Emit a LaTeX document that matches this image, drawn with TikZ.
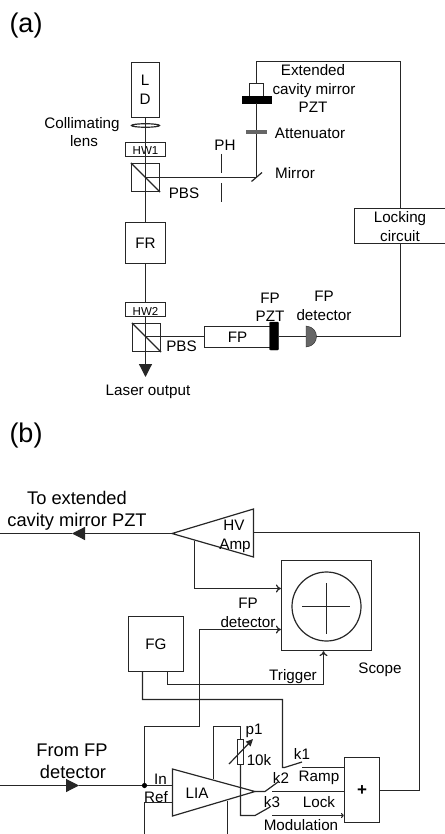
\documentclass[tikz,border=0pt]{standalone}
\usepackage{fontspec}
\setmainfont{Liberation Sans}
\usepackage{tikz}
\usetikzlibrary{positioning,calc,arrows.meta,shapes.geometric}
\tikzset{
  wire/.style={line width=1.2pt, black!85},
  box/.style={draw=black!85, line width=1.2pt, inner sep=0pt, text height=11pt, text depth=0pt, font=\fontsize{15.2}{16}\selectfont},
  lbl/.style={inner sep=0pt, text height=11pt, text depth=0pt, font=\fontsize{15.2}{16}\selectfont},
  biglbl/.style={inner sep=0pt, text height=13pt, text depth=0pt, font=\fontsize{18.3}{20}\selectfont},
  partlbl/.style={inner sep=0pt, font=\fontsize{27}{28}\selectfont},
  solidhead/.style={-{Triangle[length=13pt,width=13pt]}},
  openhead/.style={-{To[length=5pt,width=8pt]}},
}
\begin{document}
\begin{tikzpicture}[x=1pt,y=-1pt]
\useasboundingbox (0,0) rectangle (444,834);

% Part (a)
\node[partlbl] (parta) at (26,26) {(a)};
\node[box, minimum width=28pt, minimum height=55pt] (ld) at (145.5,90) {};
\node[lbl] (ldl) at (145,80) {L};
\node[lbl] (ldd) at (145,99) {D};
\node[draw, ellipse, wire, minimum width=28pt, minimum height=3.5pt, inner sep=0pt] (lens) at (145.5,125.5) {};
\node[box, minimum width=40pt, minimum height=14pt] (hwone) at (145.5,149.5) {\fontsize{11.5}{12}\selectfont HW1};
\node[box, minimum width=28pt, minimum height=28pt] (pbsone) at (145.5,177.5) {};
\node[box, minimum width=40pt, minimum height=41pt] (fr) at (145.5,243) {FR};
\node[box, minimum width=40pt, minimum height=14pt] (hwtwo) at (145.5,309.5) {\fontsize{11.5}{12}\selectfont HW2};
\node[box, minimum width=28pt, minimum height=28pt] (pbstwo) at (146.5,337.5) {};
\node[box, minimum width=66pt, minimum height=21pt] (fp) at (237.5,337) {FP};
\node[draw, fill=black, rounded corners=1pt, minimum width=9pt, minimum height=28pt, inner sep=0pt] (fppzt) at (274,336) {};
\node[box, minimum width=92pt, minimum height=35pt] (lock) at (400.5,226) {};
\node[box, minimum width=14pt, minimum height=13pt] (pztbox) at (256.5,90) {};
\node[draw, fill=black, minimum width=29pt, minimum height=7pt, inner sep=0pt] (pztbar) at (256.5,99.5) {};
\coordinate (hwout) at (145.5,336.5);
\coordinate (laser) at (145.5,377);
\coordinate (corner) at (256.5,177.5);
\coordinate (topr) at (400.5,61.5);
\coordinate (topl) at (256.5,61.5);
\coordinate (lockb) at (400.5,243.5);
\coordinate (fpcorner) at (400.5,336.5);

% Beams
\draw[wire] (ld.south) -- (fr.north);
\draw[wire] (fr.south) -- (hwtwo.north);
\draw[wire] (hwtwo.south) -- (hwout);
\draw[wire, solidhead] (hwout) -- (laser);
\draw[wire] (pbsone.center) -- (corner) -- (pztbar.south);
\draw[wire] (pbsone.north west) -- (pbsone.south east);
\draw[wire] (pbstwo.north west) -- (pbstwo.south east);
\draw[wire] (hwout) -- (hwout -| fp.west);
\draw[wire] (pztbox.north) -- (topl) -- (topr) -- (lock.north -| topr);
\draw[wire] (lockb) -- (fpcorner) -- (fppzt.east |- fpcorner);

% Mirror, attenuator, pinhole, detector
\draw[wire] (251.5,181.5) -- (262,172.5);
\fill[black!60] (245.5,130.5) rectangle (266.5,134);
\draw[wire] (221.5,154) -- (221.5,173);
\draw[wire] (221.5,183) -- (221.5,202);
\fill[black!60, draw=black!85] (306,326) .. controls (320,327) and (320,346) .. (306,347) -- cycle;

% Labels (a)
\node[lbl] (extl) at (313,70) {Extended};
\node[lbl] (cavl) at (314,89) {cavity mirror};
\node[lbl] (pztl) at (313,107.5) {PZT};
\node[lbl] (attl) at (310,133) {Attenuator};
\node[lbl] (mirl) at (295,173.5) {Mirror};
\node[lbl] (phl) at (225,145) {PH};
\node[lbl] (coll) at (82,123) {Collimating};
\node[lbl] (lenl) at (84,141) {lens};
\node[lbl] (pbsa) at (184,193) {PBS};
\node[lbl] (lockl) at (400,217) {Locking};
\node[lbl] (circl) at (400,236) {circuit};
\node[lbl] (fpa) at (270,297.5) {FP};
\node[lbl] (fppztl) at (270,316) {PZT};
\node[lbl] (fpda) at (324,296) {FP};
\node[lbl] (fpdb) at (324,315) {detector};
\node[lbl] (pbsb) at (181.5,346) {PBS};
\node[lbl] (outl) at (148,390) {Laser output};

% Part (b)
\node[partlbl] (partb) at (26,436) {(b)};
\node[biglbl] (toa) at (77,497.5) {To extended};
\node[biglbl] (tob) at (77,519.5) {cavity mirror PZT};
\coordinate (hvtip) at (172,533.5);
\coordinate (hvtop) at (253.5,509);
\coordinate (hvbot) at (253.5,557);
\draw[wire] (hvtip) -- (hvtop) -- (hvbot) -- cycle;
\node[lbl] (hvl) at (234,525) {HV};
\node[lbl] (ampl) at (235,544) {Amp};
\coordinate (toleft) at (0,533.5);
\coordinate (toarrow) at (72,533.5);
\draw[wire, solidhead] (hvtip) -- (toarrow);
\draw[wire] (toarrow) -- (toleft);

\node[box, minimum width=90pt, minimum height=90pt] (scope) at (326.5,605.5) {};
\node[draw, circle, wire, minimum size=69pt, inner sep=0pt] (screen) at (326.5,606.5) {};
\draw[wire] (326.5,583) -- (326.5,634);
\draw[wire] (302,606.5) -- (350,606.5);
\node[box, minimum width=55pt, minimum height=55pt] (fg) at (156,644) {FG};
\node[lbl] (fpb) at (248,603) {FP};
\node[lbl] (fpdc) at (248,622) {detector};
\node[lbl] (trigl) at (293,675) {Trigger};
\node[lbl] (scopel) at (380,667.5) {Scope};

\coordinate (hvdown) at (194.5,541);
\coordinate (ylow) at (194.5,588.5);
\draw[wire, openhead] (hvdown) -- (ylow) -- (ylow -| scope.west);
\coordinate (fpdin) at (199.5,629.5);
\coordinate (fpdbend) at (199.5,726.5);
\coordinate (inbend) at (144.5,726.5);
\coordinate (indot) at (144.5,785.5);
\draw[wire, openhead] (indot) -- (inbend) -- (fpdbend) -- (fpdin) -- (fpdin -| scope.west);

% Lock-in and adder
\coordinate (liaa) at (172.5,769);
\coordinate (liab) at (172.5,816);
\coordinate (liatip) at (255,791.5);
\draw[wire] (liaa) -- (liatip) -- (liab) -- cycle;
\node[lbl] (lial) at (197,793) {LIA};
\node[box, minimum width=35pt, minimum height=65pt, font=\fontsize{17}{17}\selectfont\bfseries] (adder) at (362,790) {+};

\coordinate (fpleft) at (0,785.5);
\coordinate (fparrow) at (79,785.5);
\draw[wire, solidhead] (fpleft) -- (fparrow);
\draw[wire] (fparrow) -- (liaa |- indot);
\fill (indot) circle (2.6pt);
\node[biglbl] (froml) at (72,749.5) {From FP};
\node[biglbl] (detl) at (73,772) {detector};
\node[lbl] (inl) at (160.5,779) {In};
\node[lbl] (refl) at (156,797) {Ref};
\coordinate (refb) at (144.5,802.5);
\coordinate (refd) at (144.5,834);
\draw[wire] (liaa |- refb) -- (refb) -- (refd);
\coordinate (liaout) at (227.5,800.5);
\coordinate (liadown) at (227.5,834);
\draw[wire] (liaout) -- (liadown);

% FG outputs
\coordinate (fgaa) at (142.5,699.5);
\coordinate (fgab) at (282.5,699.5);
\coordinate (kone) at (284.5,767.5);
\coordinate (konee) at (302,762);
\coordinate (fgba) at (167.5,684.5);
\coordinate (fgbb) at (323.5,684.5);
\draw[wire] (fgaa |- fg.south) -- (fgaa) -- (fgab) -- (fgab |- kone) -- (kone) -- (konee);
\draw[wire, openhead] (fgba |- fg.south) -- (fgba) -- (fgbb) -- (fgbb |- scope.south);

% Switches
\coordinate (ramp) at (302,767.5);
\draw[wire] (ramp) -- (ramp -| adder.west);
\coordinate (ktwo) at (265,791.5);
\coordinate (ktwoe) at (278,782);
\draw[wire] (liatip) -- (ktwo) -- (ktwoe);
\coordinate (lock2) at (272,791.5);
\draw[wire] (lock2) -- (lock2 -| adder.west);
\coordinate (kthr) at (255,815.5);
\coordinate (kthre) at (270,807);
\coordinate (mods) at (272,815.5);
\draw[wire, -{To[length=3pt,width=5pt]}] (mods) -- (mods -| adder.west);
\node[lbl] (konel) at (302,754) {k1};
\node[lbl] (ktwol) at (281,778) {k2};
\node[lbl] (kthrl) at (272,802) {k3};
\node[lbl] (rampl) at (319,776) {Ramp};
\node[lbl] (lockl2) at (319,802) {Lock};
\node[lbl] (modl) at (301,825) {Modulation};

% Potentiometer loop
\node[box, minimum width=6pt, minimum height=25pt] (pot) at (240.5,752) {};
\coordinate (loopa) at (213.5,778.5);
\coordinate (loopb) at (213.5,726.5);
\coordinate (loopc) at (240.5,726.5);
\draw[wire] (loopa) -- (loopb) -- (loopc) -- (pot.north);
\draw[wire] (pot.south) -- (kthr -| pot.south) -- (kthr) -- (kthre);
\draw[wire, -{Triangle[length=7pt,width=6.5pt]}] (229,764) -- (253,739);
\node[lbl] (pl) at (254,728.5) {p1};
\node[lbl] (tenl) at (259,760) {10k};

% Adder output
\coordinate (outa) at (419.5,790.5);
\coordinate (outb) at (419.5,532.5);
\draw[wire] (adder.east |- outa) -- (outa) -- (outb) -- (outb -| hvtop);
\end{tikzpicture}
\end{document}
